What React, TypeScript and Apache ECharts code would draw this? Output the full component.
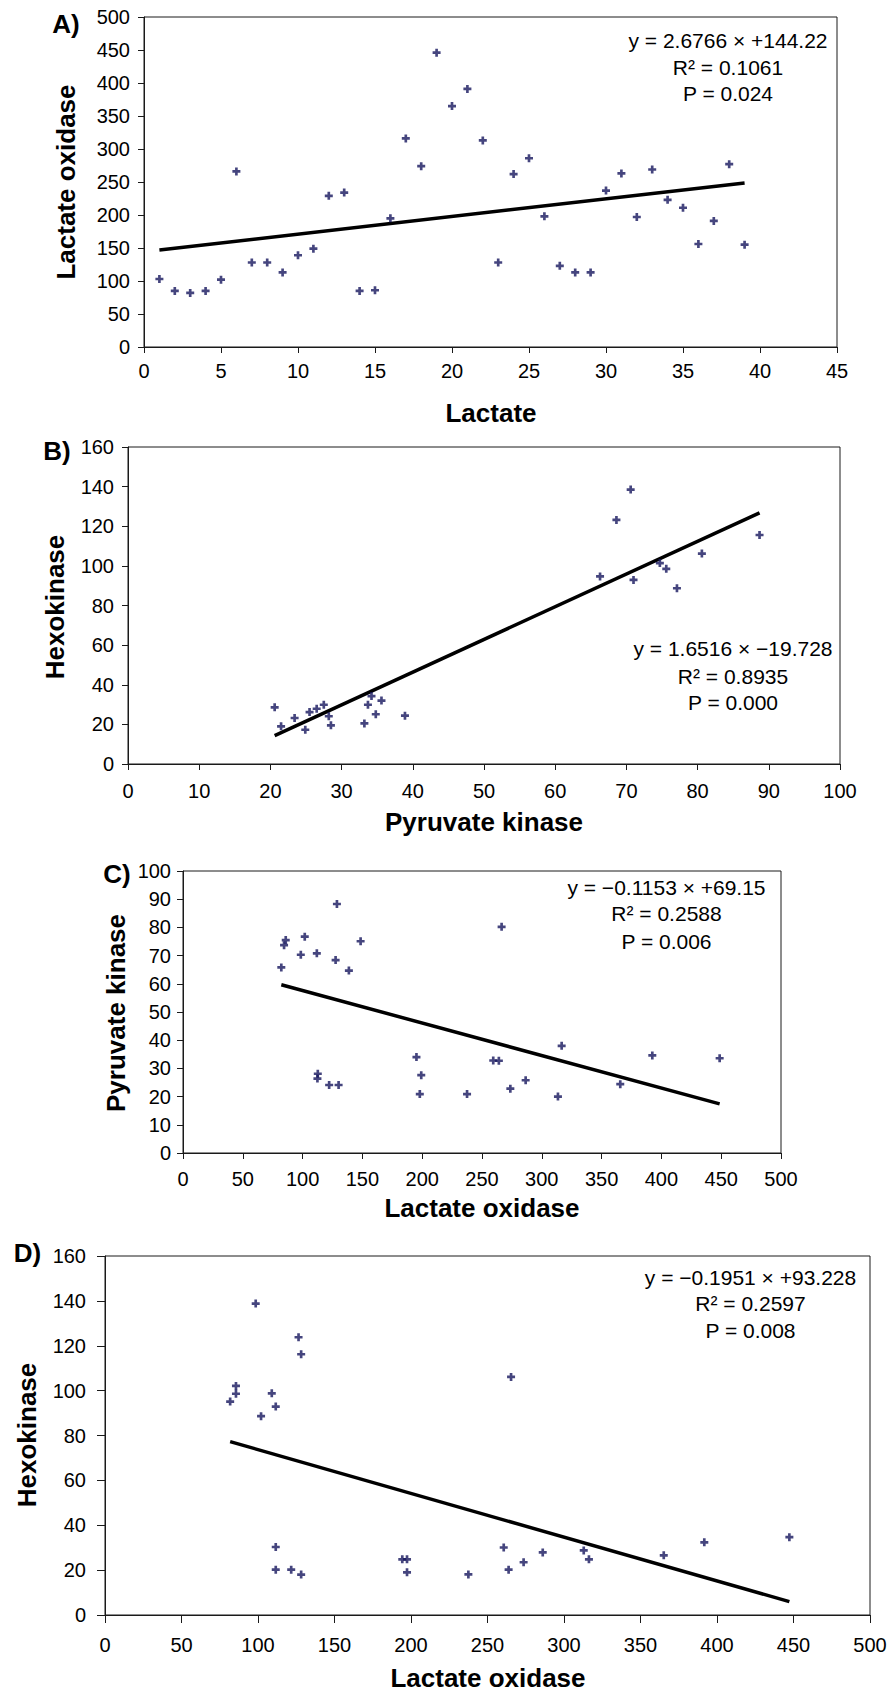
import React, { useEffect, useRef } from "react";
import * as echarts from "echarts";

// Panel A: Lactate vs Lactate oxidase
const aLactate = [1,2,3,4,5,6,7,8,9,10,11,12,13,14,15,16,17,18,19,20,21,22,23,24,25,26,27,28,29,30,31,32,33,34,35,36,37,38,39];
const aLox = [103,85,82,85,102,266,128,128,113,139,149,229,234,85,86,195,316,274,446,365,391,313,128,262,286,198,123,113,113,237,263,197,269,223,211,156,191,277,155];
const aFit = [2.6766, 144.22];
const aText = ["y = 2.6766 \u00d7 +144.22", "R\u00b2 = 0.1061", "P = 0.024"];

// Panel B: Pyruvate kinase vs Hexokinase
const bPk = [20.6,21.5,23.4,24.9,25.5,26.5,27.5,28.2,28.5,33.2,33.7,34.2,34.8,35.6,38.9,70.6,68.6,88.7,80.6,74.7,75.6,66.3,71.0,77.1];
const bHk = [28.6,19.0,23.2,17.3,26.2,27.9,29.9,24.1,19.5,20.5,29.9,34.3,25.1,32.0,24.4,138.5,123.2,115.6,106.2,101.4,98.5,94.7,92.9,88.7];
const bFit = [1.6516, -19.728];
const bText = ["y = 1.6516 \u00d7 \u221219.728", "R\u00b2 = 0.8935", "P = 0.000"];

// Panel C: Lactate oxidase vs Pyruvate kinase
const cLox = [82.2,84.5,85.9,98.5,101.8,111.9,112.7,112.4,122.2,130.1,127.6,128.7,138.7,148.5,195.2,199.2,198,266.4,237.5,259.4,264.1,273.7,286.5,313.5,316.6,365.6,392.4,448.7];
const cPk = [65.8,73.7,75.5,70.3,76.7,70.8,28.1,26.4,24.1,24.1,68.4,88.3,64.7,75.1,34.0,27.6,20.9,80.2,20.9,32.8,32.7,22.8,25.8,20.0,38.0,24.4,34.6,33.6];
const cFit = [-0.1153, 69.15];
const cText = ["y = \u22120.1153 \u00d7 +69.15", "R\u00b2 = 0.2588", "P = 0.006"];

// Panel D: Lactate oxidase vs Hexokinase
const dLox = [98.5,126.5,128.2,85.6,85.6,81.8,109,111.6,102,111.6,111.6,121.7,128.2,194.3,197.4,197.4,265.4,237.5,260.6,263.8,273.6,286.1,312.9,316.3,365.2,391.7,447.3];
const dHk = [138.8,123.8,116.2,102.1,98.6,95.1,98.8,92.9,88.6,30.3,20.2,20.2,18.0,24.8,24.8,19.0,106.1,18.1,30.1,20.2,23.5,27.9,28.8,24.8,26.6,32.4,34.7];
const dFit = [-0.1951, 93.228];
const dText = ["y = \u22120.1951 \u00d7 +93.228", "R\u00b2 = 0.2597", "P = 0.008"];

const FONT = "'Liberation Sans', Arial, Helvetica, sans-serif";
const MARKER = "path://M3,0h3v3h3v3h-3v3h-3v-3h-3v-3h3z";

type Panel = {
  label: string;
  xs: number[];
  ys: number[];
  fit: number[];
  text: string[];
  xMax: number; xInt: number;
  yMax: number; yInt: number;
  grid: { left: number; top: number; width: number; height: number };
  yLabelMargin: number; xLabelMargin: number; tickLen: number;
  xTitle: string; yTitle: string;
  labelPos: [number, number];
  yTitlePos: [number, number];
  xTitlePos: [number, number];
  textX: number; textY: number[];
};

const panels: Panel[] = [
  {
    label: "A)", xs: aLactate, ys: aLox, fit: aFit, text: aText,
    xMax: 45, xInt: 5, yMax: 500, yInt: 50,
    grid: { left: 144, top: 17, width: 693, height: 330 },
    yLabelMargin: 14, xLabelMargin: 14, tickLen: 6,
    xTitle: "Lactate", yTitle: "Lactate oxidase",
    labelPos: [66, 24], yTitlePos: [65.5, 182], xTitlePos: [491, 413],
    textX: 728, textY: [40, 67, 93],
  },
  {
    label: "B)", xs: bPk, ys: bHk, fit: bFit, text: bText,
    xMax: 100, xInt: 10, yMax: 160, yInt: 20,
    grid: { left: 128, top: 447, width: 712, height: 317 },
    yLabelMargin: 14, xLabelMargin: 17, tickLen: 6,
    xTitle: "Pyruvate kinase", yTitle: "Hexokinase",
    labelPos: [57, 451], yTitlePos: [55, 607], xTitlePos: [484, 822],
    textX: 733, textY: [648, 676, 702],
  },
  {
    label: "C)", xs: cLox, ys: cPk, fit: cFit, text: cText,
    xMax: 500, xInt: 50, yMax: 100, yInt: 10,
    grid: { left: 183, top: 871, width: 598, height: 282 },
    yLabelMargin: 12, xLabelMargin: 16, tickLen: 6,
    xTitle: "Lactate oxidase", yTitle: "Pyruvate kinase",
    labelPos: [117, 874], yTitlePos: [116, 1013], xTitlePos: [482, 1208],
    textX: 666.5, textY: [887, 913, 941],
  },
  {
    label: "D)", xs: dLox, ys: dHk, fit: dFit, text: dText,
    xMax: 500, xInt: 50, yMax: 160, yInt: 20,
    grid: { left: 105, top: 1256, width: 765, height: 359 },
    yLabelMargin: 19, xLabelMargin: 20, tickLen: 8,
    xTitle: "Lactate oxidase", yTitle: "Hexokinase",
    labelPos: [27.5, 1252.5], yTitlePos: [26.5, 1435], xTitlePos: [488, 1678],
    textX: 750.5, textY: [1277, 1303, 1330],
  },
];

export default function App() {
  const ref = useRef<HTMLDivElement>(null);
  useEffect(() => {
    if (!ref.current) return;
    const chart = echarts.init(ref.current, null, { renderer: "svg" });

    const grids: any[] = [];
    const xAxes: any[] = [];
    const yAxes: any[] = [];
    const series: any[] = [];
    const graphics: any[] = [];

    panels.forEach((p, i) => {
      grids.push({
        ...p.grid,
        show: true,
        borderColor: "#1a1a1a",
        borderWidth: 1,
        backgroundColor: "transparent",
        containLabel: false,
      });
      const axisCommon = {
        type: "value",
        gridIndex: i,
        min: 0,
        splitLine: { show: false },
        axisLine: { show: true, lineStyle: { color: "#1a1a1a", width: 1 } },
        axisTick: { show: true, inside: false, length: p.tickLen, lineStyle: { color: "#1a1a1a", width: 1 } },
      };
      xAxes.push({
        ...axisCommon,
        max: p.xMax,
        interval: p.xInt,
        axisLabel: { color: "#000", fontSize: 20, fontFamily: FONT, margin: p.xLabelMargin },
      });
      yAxes.push({
        ...axisCommon,
        max: p.yMax,
        interval: p.yInt,
        axisLabel: { color: "#000", fontSize: 20, fontFamily: FONT, margin: p.yLabelMargin },
      });

      series.push({
        type: "scatter",
        xAxisIndex: i,
        yAxisIndex: i,
        symbol: MARKER,
        symbolSize: 8,
        itemStyle: { color: "#16165e" },
        data: p.xs.map((x, k) => [x, p.ys[k]]),
        z: 3,
      });
      const x0 = Math.min(...p.xs);
      const x1 = Math.max(...p.xs);
      series.push({
        type: "line",
        xAxisIndex: i,
        yAxisIndex: i,
        symbol: "none",
        lineStyle: { color: "#000", width: 3.5 },
        data: [
          [x0, p.fit[0] * x0 + p.fit[1]],
          [x1, p.fit[0] * x1 + p.fit[1]],
        ],
        z: 2,
      });

      graphics.push({
        type: "text",
        x: p.labelPos[0],
        y: p.labelPos[1],
        style: { text: p.label, font: `bold 26px ${FONT}`, fill: "#000", align: "center", verticalAlign: "middle" },
      });
      graphics.push({
        type: "text",
        x: p.yTitlePos[0],
        y: p.yTitlePos[1],
        rotation: Math.PI / 2,
        style: { text: p.yTitle, font: `bold 26px ${FONT}`, fill: "#000", align: "center", verticalAlign: "middle" },
      });
      graphics.push({
        type: "text",
        x: p.xTitlePos[0],
        y: p.xTitlePos[1],
        style: { text: p.xTitle, font: `bold 26px ${FONT}`, fill: "#000", align: "center", verticalAlign: "middle" },
      });
      p.text.forEach((t, k) => {
        graphics.push({
          type: "text",
          x: p.textX,
          y: p.textY[k],
          style: { text: t, font: `21px ${FONT}`, fill: "#000", align: "center", verticalAlign: "middle" },
        });
      });
    });

    chart.setOption({
      animation: false,
      backgroundColor: "#fff",
      grid: grids,
      xAxis: xAxes,
      yAxis: yAxes,
      series,
      graphic: graphics,
    });
    return () => chart.dispose();
  }, []);

  return (
    <div
      ref={ref}
      style={{ position: "absolute", left: 0, top: 0, width: 891, height: 1693 }}
    />
  );
}
